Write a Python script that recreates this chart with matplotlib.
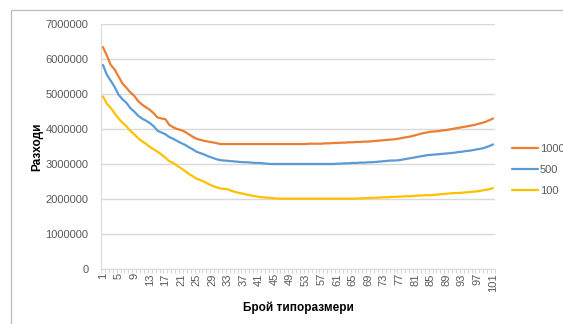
import numpy as np
import matplotlib
matplotlib.use('Agg')
import matplotlib.pyplot as plt
from matplotlib.patches import Rectangle
from matplotlib.ticker import FixedLocator, FuncFormatter

# брой типоразмери 1..101
sizes = list(range(1, 102))

# разходи в милиони, по серии
cost_1000 = [6.34, 6.10, 5.83, 5.70, 5.50, 5.30, 5.18, 5.05, 4.95, 4.80,
             4.70, 4.62, 4.55, 4.45, 4.33, 4.30, 4.28, 4.12, 4.05, 4.00,
             3.97, 3.92, 3.85, 3.78, 3.72, 3.69, 3.66, 3.64, 3.62, 3.60,
             3.57, 3.57, 3.57, 3.57, 3.57, 3.57, 3.57, 3.57, 3.57, 3.57,
             3.57, 3.57, 3.57, 3.57, 3.57, 3.57, 3.57, 3.57, 3.57, 3.57,
             3.57, 3.57, 3.57, 3.58, 3.58, 3.58, 3.58, 3.59, 3.59, 3.60,
             3.60, 3.61, 3.61, 3.62, 3.62, 3.63, 3.63, 3.64, 3.64, 3.65,
             3.66, 3.67, 3.68, 3.69, 3.70, 3.71, 3.73, 3.75, 3.77, 3.79,
             3.82, 3.85, 3.88, 3.90, 3.92, 3.93, 3.94, 3.96, 3.97, 3.99,
             4.01, 4.03, 4.05, 4.07, 4.09, 4.11, 4.14, 4.17, 4.20, 4.25,
             4.30]
cost_500 = [5.83, 5.55, 5.38, 5.20, 4.98, 4.85, 4.75, 4.60, 4.50, 4.38,
            4.30, 4.24, 4.17, 4.08, 3.95, 3.90, 3.85, 3.77, 3.72, 3.66,
            3.60, 3.55, 3.48, 3.42, 3.35, 3.31, 3.27, 3.22, 3.18, 3.14,
            3.11, 3.10, 3.09, 3.08, 3.07, 3.06, 3.05, 3.05, 3.04, 3.03,
            3.03, 3.02, 3.01, 3.00, 3.00, 3.00, 3.00, 3.00, 3.00, 3.00,
            3.00, 3.00, 3.00, 3.00, 3.00, 3.00, 3.00, 3.00, 3.00, 3.00,
            3.01, 3.01, 3.02, 3.02, 3.03, 3.03, 3.04, 3.04, 3.05, 3.05,
            3.06, 3.07, 3.08, 3.09, 3.10, 3.10, 3.11, 3.13, 3.15, 3.17,
            3.19, 3.21, 3.23, 3.25, 3.26, 3.27, 3.28, 3.29, 3.30, 3.31,
            3.32, 3.34, 3.35, 3.37, 3.38, 3.40, 3.42, 3.44, 3.47, 3.51,
            3.56]
cost_100 = [4.93, 4.72, 4.60, 4.45, 4.30, 4.18, 4.08, 3.95, 3.85, 3.74,
            3.65, 3.58, 3.49, 3.42, 3.35, 3.27, 3.18, 3.08, 3.03, 2.95,
            2.88, 2.80, 2.72, 2.65, 2.58, 2.54, 2.49, 2.43, 2.38, 2.34,
            2.30, 2.29, 2.28, 2.23, 2.20, 2.17, 2.15, 2.12, 2.10, 2.08,
            2.06, 2.05, 2.04, 2.03, 2.02, 2.01, 2.01, 2.01, 2.01, 2.01,
            2.01, 2.01, 2.01, 2.01, 2.01, 2.01, 2.01, 2.01, 2.01, 2.01,
            2.01, 2.01, 2.01, 2.01, 2.01, 2.01, 2.02, 2.02, 2.03, 2.03,
            2.04, 2.04, 2.05, 2.05, 2.06, 2.06, 2.07, 2.07, 2.08, 2.08,
            2.09, 2.10, 2.10, 2.11, 2.11, 2.12, 2.13, 2.14, 2.15, 2.16,
            2.17, 2.17, 2.18, 2.19, 2.20, 2.21, 2.22, 2.24, 2.26, 2.28,
            2.31]

series_names = ['1000', '500', '100']
series_colors = ['#ED7D31', '#5B9BD5', '#FFC000']
y_ticks = [0, 1000000, 2000000, 3000000, 4000000, 5000000, 6000000, 7000000]
x_label_ticks = sizes[::4]

plt.rcParams['font.family'] = ['Liberation Sans', 'DejaVu Sans']
txt_gray = '#595959'
grid_gray = '#d9d9d9'

fig = plt.figure(figsize=(5.63, 3.24), dpi=100)
# рамка на диаграмата
fig.patches.append(Rectangle((11 / 563, -0.1), 1.2, 1.1 - 10 / 324 + 0.001,
                             transform=fig.transFigure, fill=False,
                             edgecolor='#bfbfbf', linewidth=1.0))

ax = fig.add_axes([101 / 563, 55 / 324, 394 / 563, 245 / 324])

for vals, name, col in zip([cost_1000, cost_500, cost_100], series_names, series_colors):
    ax.plot(sizes, np.array(vals) * 1e6, color=col, linewidth=1.6,
            solid_capstyle='round', label=name)

ax.set_xlim(0.5, 101.5)
ax.set_ylim(0, 7000000)
ax.set_yticks(y_ticks)
ax.yaxis.set_major_formatter(FuncFormatter(lambda v, p: f'{int(v)}'))
ax.grid(axis='y', color=grid_gray, linewidth=1.0)
ax.set_axisbelow(True)

ax.xaxis.set_major_locator(FixedLocator(x_label_ticks))
ax.xaxis.set_minor_locator(FixedLocator(np.arange(0.5, 102, 1)))
ax.set_xticklabels([str(v) for v in x_label_ticks], rotation=90)

ax.tick_params(axis='x', which='major', length=0, pad=3, labelsize=8, labelcolor=txt_gray)
ax.tick_params(axis='x', which='minor', length=3, color=grid_gray, width=0.8)
ax.tick_params(axis='y', length=0, pad=9, labelsize=8, labelcolor=txt_gray)

for s in ['top', 'right']:
    ax.spines[s].set_visible(False)
ax.spines['left'].set_color(grid_gray)
ax.spines['bottom'].set_color(grid_gray)

ax.set_xlabel('Брой типоразмери', fontsize=8.5, fontweight='bold', labelpad=7)
ax.set_ylabel('Разходи', fontsize=8.5, fontweight='bold', labelpad=1.5)

ax.legend(loc='center left', bbox_to_anchor=(1.018, 0.405), frameon=False,
          fontsize=8, handlelength=2.3, handletextpad=0.2, labelspacing=1.0,
          labelcolor=txt_gray)

fig.savefig('out.png', dpi=100)
